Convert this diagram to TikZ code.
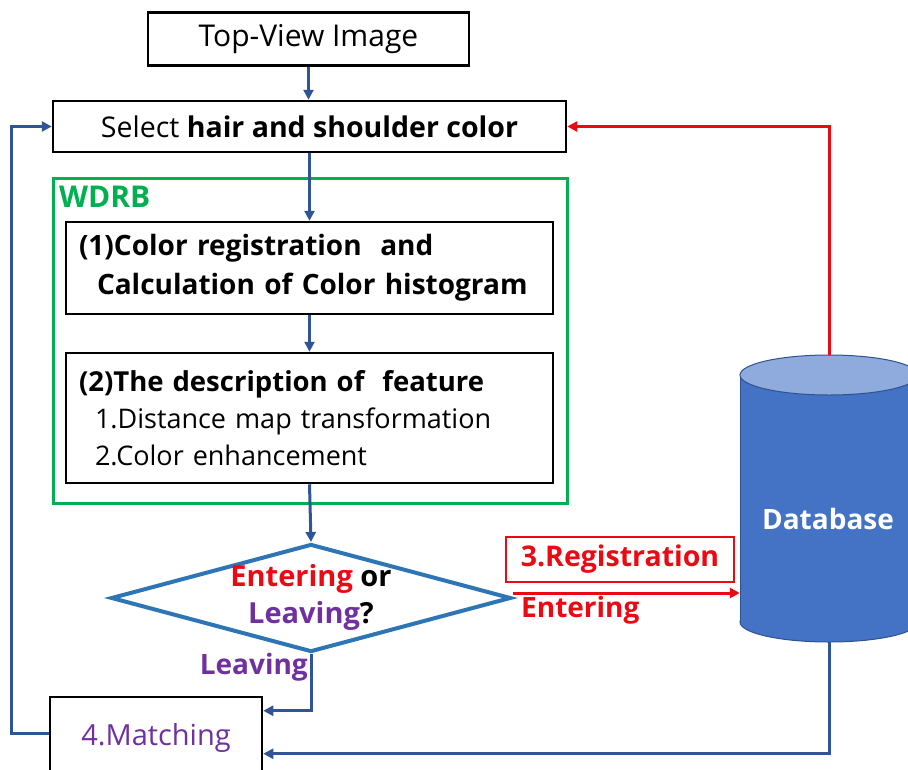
\documentclass[tikz,border=0pt]{standalone}
\usepackage{fontspec}
\setmainfont{Open Sans}
\usetikzlibrary{arrows.meta,shapes.geometric,calc}

\definecolor{linkblue}{RGB}{47,85,151}
\definecolor{decblue}{RGB}{46,117,182}
\definecolor{wdrbgreen}{RGB}{0,176,80}
\definecolor{regred}{RGB}{235,10,20}
\definecolor{purp}{RGB}{112,48,160}
\definecolor{dbbody}{RGB}{68,114,196}
\definecolor{dbtop}{RGB}{143,170,220}
\definecolor{dbedge}{RGB}{47,82,143}

\newcommand{\fsz}[1]{\fontsize{#1}{1.3\dimexpr #1pt\relax}\selectfont}

\begin{document}
\begin{tikzpicture}[x=1pt,y=-1pt,
  box/.style={draw=black, line width=2.5pt, fill=white, inner sep=0pt},
  link/.style={draw=linkblue, line width=3pt, -{Triangle[length=10pt,width=10pt]}},
  redlink/.style={draw=regred, line width=3pt, -{Triangle[length=10pt,width=10pt]}},
]
\useasboundingbox (0,0) rectangle (908,769);

% process boxes
\node[box, font=\fontsize{30}{36}\selectfont, minimum width=321pt, minimum height=53pt] (top) at (308.5,39) {Top-View Image};
\node[box, font=\fontsize{28.5}{34}\selectfont, minimum width=513pt, minimum height=51pt] (sel) at (309.5,126.5) {Select \textbf{hair and shoulder color}};

% WDRB frame
\node[draw=wdrbgreen, line width=3pt, minimum width=514pt, minimum height=325pt, inner sep=0pt] (wdrb) at (310,340.5) {};
\node[anchor=west, inner sep=0pt, text=wdrbgreen, font=\fontsize{30}{34}\selectfont\bfseries] (wdrblabel) at (59,197) {WDRB};

\node[box, font=\fontsize{28}{39}\selectfont\bfseries, minimum width=487pt, minimum height=92pt,
      text width=461pt, align=left, inner xsep=13pt] (b1) at (309.5,268)
  {(1)Color registration\ \ and\\\hspace*{18pt}Calculation of Color histogram};
\node[box, font=\fontsize{27}{37}\selectfont, minimum width=487pt, minimum height=130pt,
      text width=461pt, align=left, inner xsep=13pt] (b2) at (309.5,418)
  {{\fontsize{27.5}{37}\selectfont\bfseries (2)The description of\ \ feature}\\\hspace*{16pt}1.Distance map transformation\\\hspace*{16pt}2.Color enhancement};

% decision
\node[diamond, draw=decblue, line width=4pt, minimum width=400pt, minimum height=108pt, inner sep=0pt] (dia) at (311,598) {};
\node[font=\fontsize{29}{37}\selectfont\bfseries, align=center, inner sep=0pt] (diatext) at (311,597)
  {\textcolor{regred}{Entering} or\\\textcolor{purp}{Leaving}?};

\node[draw=regred, line width=2.5pt, minimum width=228pt, minimum height=45pt, inner sep=0pt,
      text=regred, font=\fontsize{28.5}{32}\selectfont\bfseries] (reg) at (620,559.5) {3.Registration};

% database cylinder
\node[minimum width=178pt, minimum height=287pt, inner sep=0pt] (db) at (829,498.5) {};
\fill[dbbody, draw=dbedge, line width=1pt] (829,622) ellipse [x radius=89pt, y radius=20pt];
\fill[dbbody] (740,375) rectangle (918,622);
\draw[dbedge, line width=1pt] (740,375) -- (740,622) (918,375) -- (918,622);
\filldraw[fill=dbtop, draw=dbedge, line width=1pt] (829,375) ellipse [x radius=89pt, y radius=20pt];
\node[text=white, font=\fontsize{28}{32}\selectfont\bfseries, inner sep=0pt] (dbtext) at (828,519) {Database};

% matching
\node[box, font=\fontsize{29}{34}\selectfont, text=purp, minimum width=212pt, minimum height=82pt] (mat) at (156,738) {4.Matching};

% edge labels
\node[anchor=east, inner sep=0pt, text=purp, font=\fontsize{28}{32}\selectfont\bfseries] (lvlabel) at (308,667) {Leaving};
\node[anchor=west, inner sep=0pt, text=regred, font=\fontsize{28}{32}\selectfont\bfseries] (enlabel) at (521,610) {Entering};

% connectors
\draw[link] (top.south) -- (top.south |- sel.north);
\draw[link] (sel.south) -- (sel.south |- b1.north);
\draw[link] (b1.south) -- (b1.south |- b2.north);
\draw[link] (b2.south) -- (dia.north);
\draw[link] (dia.south) |- ($(mat.north east)+(0,15)$);
\draw[link] (db.south) |- ($(mat.north east)+(0,58)$);
\draw[link] ($(mat.north west)+(0,38)$) -- ++(-37,0) |- (sel.west);
\draw[redlink] (db.north) |- (sel.east);
\draw[redlink] ($(dia.east)+(0,-5)$) -- ($(dia.east -| db.west)+(0,-5)$);
\end{tikzpicture}
\end{document}
